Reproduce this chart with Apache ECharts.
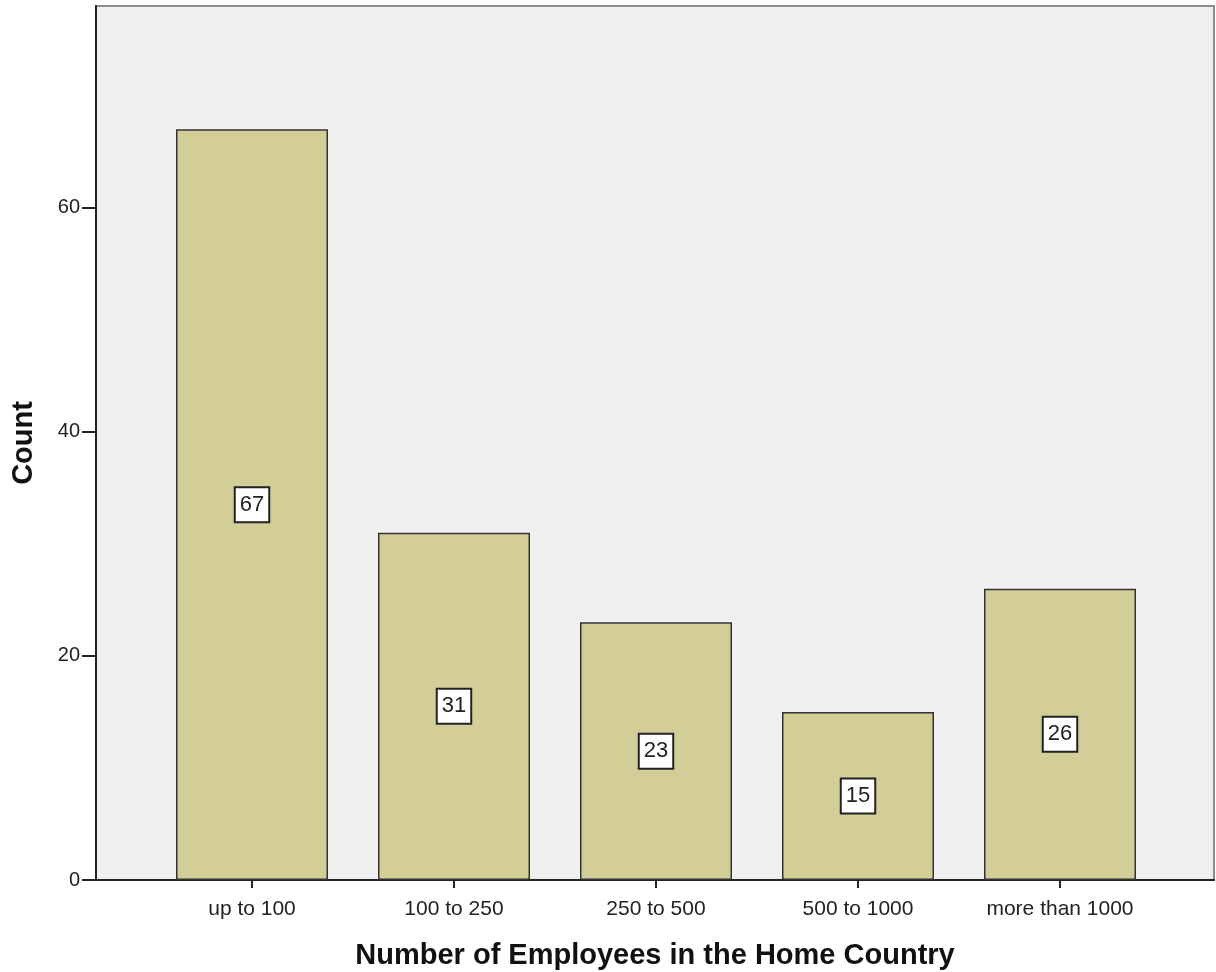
<!DOCTYPE html>
<html>
<head>
<meta charset="utf-8">
<script src="https://cdn.jsdelivr.net/npm/echarts@6/dist/echarts.min.js"></script>
<style>html,body{margin:0;padding:0;background:#fff}#c{width:1216px;height:972px}</style>
</head>
<body>
<div id="c"></div>
<script>
const categories = ["up to 100", "100 to 250", "250 to 500", "500 to 1000", "more than 1000"];
const counts = [67, 31, 23, 15, 26];
const yTicks = [0, 20, 40, 60];
const yMax = 78;

const chart = echarts.init(document.getElementById('c'), null, {renderer: 'canvas'});
const font = 'Liberation Sans, Arial, sans-serif';
chart.setOption({
  animation: false,
  grid: [
    {left: 96, right: 2, top: 6, bottom: 92, outerBoundsMode: 'none', containLabel: false, show: true, backgroundColor: '#f0f0f0', borderColor: '#8c8c8c', borderWidth: 2},
    {left: 151, right: 55, top: 6, bottom: 92, outerBoundsMode: 'none', containLabel: false}
  ],
  xAxis: [
    {gridIndex: 0, type: 'value', min: 0, max: 1, axisLine: {show: true, onZero: false, lineStyle: {color: '#222', width: 2}}, axisTick: {show: false}, axisLabel: {show: false}, splitLine: {show: false},
     name: 'Number of Employees in the Home Country', nameLocation: 'middle', nameGap: 61,
     nameTextStyle: {fontFamily: font, fontSize: 29, fontWeight: 'bold', color: '#111'}},
    {gridIndex: 1, type: 'category', data: categories, boundaryGap: true,
     axisLine: {show: false}, axisTick: {show: true, alignWithLabel: true, length: 8, lineStyle: {color: '#222', width: 2}},
     axisLabel: {fontFamily: font, fontSize: 21, color: '#222', margin: 19}}
  ],
  yAxis: [
    {gridIndex: 0, type: 'value', min: 0, max: yMax, interval: 20,
     axisLine: {show: true, lineStyle: {color: '#222', width: 2}},
     axisTick: {show: true, inside: false, length: 14, lineStyle: {color: '#222', width: 2}, customValues: yTicks},
     axisLabel: {fontFamily: font, fontSize: 20, color: '#222', margin: 16, customValues: yTicks},
     splitLine: {show: false},
     name: 'Count', nameLocation: 'middle', nameGap: 58, nameRotate: 90,
     nameTextStyle: {fontFamily: font, fontSize: 29, fontWeight: 'bold', color: '#111'}},
    {gridIndex: 1, type: 'value', min: 0, max: yMax, show: false}
  ],
  series: [{
    type: 'bar', xAxisIndex: 1, yAxisIndex: 1, data: counts, barWidth: 152,
    itemStyle: {color: '#d3ce97', borderColor: '#333', borderWidth: 1.5},
    label: {show: true, position: 'inside', fontFamily: font, fontSize: 22, lineHeight: 22, color: '#222',
      backgroundColor: '#fff', borderColor: '#222', borderWidth: 2, padding: [6, 4, 5, 4]}
  }]
});
</script>
</body>
</html>
